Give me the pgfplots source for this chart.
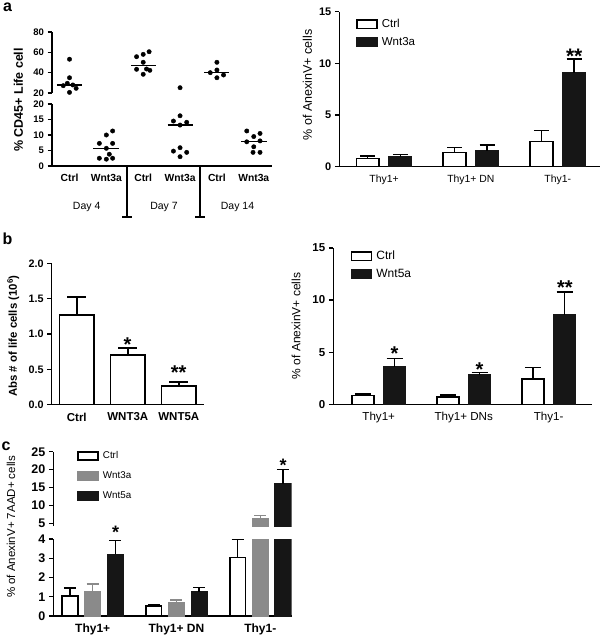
\documentclass[border=0pt]{standalone}
\usepackage{pgfplots}
\pgfplotsset{compat=1.18}
\usepackage{fontspec}
\setmainfont{Liberation Sans}
\definecolor{barblack}{RGB}{22,22,22}
\definecolor{bargray}{RGB}{138,138,138}
\newcommand{\fs}[1]{\fontsize{#1}{#1}\selectfont}
\pgfplotsset{
  gp/.style={
    scale only axis,
    axis x line*=bottom, axis y line*=left,
    axis line style={line width=1.3pt, black},
    tick align=outside,
    major tick length=4.5pt,
    ytick style={line width=1.3pt, black},
    xtick style={draw=none},
    clip mode=individual,
    /pgf/number format/assume math mode=true,
    anchor=south west,
  },
  boxlegend/.style={legend image code/.code={\draw[##1] (0pt,-4.2pt) rectangle (20pt,4.2pt);}},
  errs/.style 2 args={
    /pgfplots/error bars/y dir=plus,
    /pgfplots/error bars/y explicit,
    /pgfplots/error bars/error bar style={line width=1.5pt, #1, solid},
    /pgfplots/error bars/error mark options={rotate=90, line width=1.5pt, #1, mark size=#2},
  },
  ctrlbar/.style={ybar, bar shift=0pt, fill=white, draw=black, line width=1.6pt, boxlegend, errs={black}{#1}},
  blkbar/.style={ybar, bar shift=0pt, fill=barblack, draw=barblack, line width=1.6pt, boxlegend, errs={black}{#1}},
  grybar/.style={ybar, bar shift=0pt, fill=bargray, draw=bargray, line width=1.6pt, boxlegend, errs={bargray}{#1}},
  dots/.style={only marks, mark=*, mark size=2.2pt, black},
  med/.style={black, line width=1.3pt},
}
\begin{document}
\begin{tikzpicture}
\useasboundingbox (0pt,0pt) rectangle (602pt,-636pt);

% ---------------- panel a, left (broken axis scatter) ----------------
\begin{axis}[gp, clip=false, at={(52pt,-166pt)}, width=220pt, height=62pt,
  xmin=0.525, xmax=6.495, ymin=0, ymax=20, ytick={0,5,10,15,20},
  xtick={1,2,3,4,5,6}, xticklabels={Ctrl,Wnt3a,Ctrl,Wnt3a,Ctrl,Wnt3a},
  yticklabel style={font=\bfseries\fs{9.5}},
  xticklabel style={font=\bfseries\fs{10.3}}]
\addplot[dots] coordinates {(2.17,11.3) (2.00,10.0) (1.81,7.3) (2.17,7.3) (2.00,5.7) (2.08,3.8) (1.81,2.5) (2.00,2.2) (2.17,2.5)};
\addplot[dots] coordinates {(4.00,16.2) (3.82,14.5) (4.18,14.1) (4.00,13.2) (4.00,5.9) (3.82,4.8) (4.18,4.4) (4.00,3.0)};
\addplot[dots] coordinates {(5.81,11.3) (6.17,10.5) (6.00,9.5) (5.81,7.8) (6.17,8.1) (6.00,6.2) (5.98,4.4) (6.17,4.4)};
\addplot[med] coordinates {(1.64,5.7) (2.35,5.7)};
\addplot[med] coordinates {(3.66,13.2) (4.34,13.2)};
\addplot[med] coordinates {(5.65,7.8) (6.35,7.8)};
\end{axis}
\begin{axis}[gp, clip=false, axis x line=none, at={(52pt,-93pt)}, width=220pt, height=61pt,
  xmin=0.525, xmax=6.495, ymin=20, ymax=80, ytick={20,40,60,80},
  yticklabel style={font=\bfseries\fs{9.5}}]
\addplot[dots] coordinates {(1.00,53.2) (1.00,35.0) (0.83,27.2) (0.94,29.5) (1.09,27.9) (1.18,24.6) (1.00,20.6)};
\addplot[dots] coordinates {(3.16,60.6) (3.00,58.0) (2.82,55.7) (3.00,50.2) (2.82,43.3) (3.09,43.6) (3.18,42.3) (3.00,38.4)};
\addplot[dots] coordinates {(4.00,25.2)};
\addplot[dots] coordinates {(5.00,50.2) (5.00,42.6) (4.82,40.0) (5.18,37.7) (5.00,35.0)};
\addplot[med] coordinates {(0.66,28.0) (1.35,28.0)};
\addplot[med] coordinates {(2.67,46.9) (3.35,46.9)};
\addplot[med] coordinates {(4.65,40.4) (5.34,40.4)};
\end{axis}
\draw[line width=1.3pt] (127pt,-166pt) -- (127pt,-217pt) (122pt,-217pt) -- (132pt,-217pt);
\draw[line width=1.3pt] (200pt,-166pt) -- (200pt,-217pt) (195pt,-217pt) -- (205pt,-217pt);
\node[font=\fs{10.5}] at (86.7pt,-206.7pt) {Day 4};
\node[font=\fs{10.5}] at (164pt,-206.7pt) {Day 7};
\node[font=\fs{10.5}] at (237.5pt,-206.7pt) {Day 14};
\node[rotate=90, font=\bfseries\fs{12.5}] at (18.3pt,-100pt) {\% CD45+ Life cell};
\node[font=\bfseries\fs{16}, inner sep=0pt] at (7.5pt,-7pt) {a};

% ---------------- panel a, right ----------------
\begin{axis}[gp, at={(339.3pt,-166.7pt)}, width=261pt, height=155pt,
  xmin=0.485, xmax=3.49, ymin=0, ymax=15, ytick={0,5,10,15},
  xtick={1,2,3}, xticklabels={Thy1+,Thy1+ DN,Thy1-},
  yticklabel style={font=\bfseries\fs{11}},
  xticklabel style={font=\fs{10.4}},
  legend style={draw=none, fill=none, at={(0.064,0.965)}, anchor=north west, font=\fs{11.5}, row sep=4.5pt, inner sep=0pt, nodes={inner xsep=4pt}},
  legend cell align=left]
\addplot[ctrlbar=7.5pt, bar width=0.26] coordinates {(0.812,0.81) +- (0,0.22) (1.812,1.39) +- (0,0.45) (2.812,2.42) +- (0,1.08)};
\addlegendentry{Ctrl}
\addplot[blkbar=7.5pt, bar width=0.26] coordinates {(1.188,0.97) +- (0,0.19) (2.188,1.52) +- (0,0.58) (3.188,9.1) +- (0,1.3)};
\addlegendentry{Wnt3a}
\end{axis}
\node[font=\bfseries\fs{21}, anchor=base] at (574.2pt,-63.5pt) {**};
\node[rotate=90, font=\fs{12.5}] at (307.5pt,-85pt) {\% of AnexinV+ cells};

% ---------------- panel b, left ----------------
\begin{axis}[gp, at={(51.7pt,-404.7pt)}, width=152.3pt, height=141.4pt,
  xmin=0.508, xmax=3.494, ymin=0, ymax=2, ytick={0,0.5,1,1.5,2},
  y tick label style={/pgf/number format/fixed, /pgf/number format/fixed zerofill, /pgf/number format/precision=1},
  xtick={1,2,3}, xticklabels={Ctrl,WNT3A,WNT5A},
  yticklabel style={font=\bfseries\fs{10.8}},
  xticklabel style={font=\bfseries\fs{11.5}}]
\addplot[ctrlbar=9.5pt, bar width=0.686] coordinates {(1,1.265) +- (0,0.255) (2,0.70) +- (0,0.10) (3,0.265) +- (0,0.055)};
\end{axis}
\node[font=\bfseries\fs{20}, anchor=base] at (127.5pt,-351.5pt) {*};
\node[font=\bfseries\fs{20}, anchor=base] at (178.7pt,-379.8pt) {**};
\node[rotate=90, font=\bfseries\fs{11.4}] at (13.3pt,-336pt) {Abs \# of life cells (10\textsuperscript{6})};
\node[font=\bfseries\fs{16}, inner sep=0pt] at (7.5pt,-238.5pt) {b};

% ---------------- panel b, right ----------------
\begin{axis}[gp, at={(333.3pt,-404.3pt)}, width=258.4pt, height=156.4pt,
  xmin=0.466, xmax=3.506, ymin=0, ymax=15, ytick={0,5,10,15},
  xtick={1,2,3}, xticklabels={Thy1+,Thy1+ DNs,Thy1-},
  yticklabel style={font=\bfseries\fs{11.5}},
  xticklabel style={font=\fs{11.6}},
  legend style={draw=none, fill=none, at={(0.067,0.994)}, anchor=north west, font=\fs{12}, row sep=4pt, inner sep=0pt, nodes={inner xsep=4pt}},
  legend cell align=left]
\addplot[ctrlbar=8pt, bar width=0.255] coordinates {(0.814,0.83) +- (0,0.17) (1.814,0.70) +- (0,0.17) (2.814,2.45) +- (0,1.1)};
\addlegendentry{Ctrl}
\addplot[blkbar=8pt, bar width=0.255] coordinates {(1.186,3.6) +- (0,0.8) (2.186,2.8) +- (0,0.25) (3.186,8.55) +- (0,2.2)};
\addlegendentry{Wnt5a}
\end{axis}
\node[font=\bfseries\fs{20}, anchor=base] at (394.5pt,-360.8pt) {*};
\node[font=\bfseries\fs{20}, anchor=base] at (479.5pt,-376.5pt) {*};
\node[font=\bfseries\fs{20}, anchor=base] at (564.8pt,-294.8pt) {**};
\node[rotate=90, font=\fs{12}] at (296pt,-326pt) {\% of AnexinV+ cells};

% ---------------- panel c ----------------
\begin{axis}[gp, at={(53.3pt,-616pt)}, width=238.4pt, height=77pt,
  xmin=0.53, xmax=3.375, ymin=0, ymax=4, ytick={0,1,2,3,4},
  xtick={1,2,3}, xticklabels={Thy1+,Thy1+ DN,Thy1-},
  yticklabel style={font=\bfseries\fs{12.5}},
  xticklabel style={font=\bfseries\fs{12}}]
\addplot[ctrlbar=6pt, bar width=0.185] coordinates {(0.729,1.04) +- (0,0.41) (1.729,0.52) +- (0,0.08) (2.729,3.03) +- (0,0.95)};
\addplot[grybar=6pt, bar width=0.185] coordinates {(1,1.27) +- (0,0.38) (2,0.70) +- (0,0.12) (3,6.3) +- (0,0.9)};
\addplot[blkbar=6pt, bar width=0.185] coordinates {(1.271,3.2) +- (0,0.73) (2.271,1.27) +- (0,0.21) (3.271,16.0) +- (0,4.0)};
\end{axis}
\begin{axis}[gp, axis x line=none, at={(53.3pt,-526.2pt)}, width=238.4pt, height=74.5pt,
  xmin=0.53, xmax=3.375, ymin=4.2, ymax=25, ytick={5,10,15,20,25},
  yticklabel style={font=\bfseries\fs{12.5}},
  legend style={draw=none, fill=none, at={(0.1,1.03)}, anchor=north west, font=\fs{9.8}, row sep=7.5pt, inner sep=0pt, nodes={inner xsep=4pt}},
  legend cell align=left]
\addlegendimage{ybar, fill=white, draw=black, line width=1.6pt, boxlegend}
\addlegendentry{Ctrl}
\addplot[grybar=6pt, bar width=0.185] coordinates {(3,6.3) +- (0,0.9)};
\addlegendentry{Wnt3a}
\addplot[blkbar=6pt, bar width=0.185] coordinates {(3.271,16.0) +- (0,4.0)};
\addlegendentry{Wnt5a}
\end{axis}
\node[font=\bfseries\fs{18}, anchor=base] at (283pt,-471.9pt) {*};
\node[font=\bfseries\fs{18}, anchor=base] at (115.5pt,-538.5pt) {*};
\node[rotate=90, font=\fs{11.5}] at (11pt,-527pt) {\% of AnexinV+ 7AAD+ cells};
\node[font=\bfseries\fs{16}, inner sep=0pt] at (6pt,-446pt) {c};
\end{tikzpicture}
\end{document}
